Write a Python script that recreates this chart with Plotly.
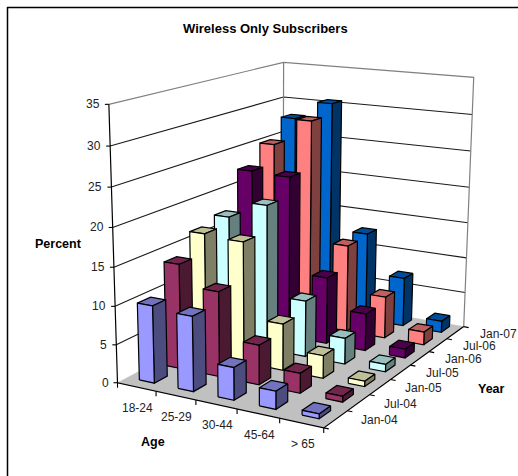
import numpy as np
import plotly.graph_objects as go

# Chart data: share of wireless-only subscribers, percent
ages = ["18-24", "25-29", "30-44", "45-64", "> 65"]
periods = ["Jan-04", "Jul-04", "Jan-05", "Jul-05", "Jan-06", "Jul-06", "Jan-07"]
s_jan04 = [10.1, 9.7, 4.2, 2.3, 0.6]
s_jul04 = [13.9, 11.2, 5.2, 2.6, 0.75]
s_jan05 = [16.5, 16.2, 6.2, 3.0, 0.7]
s_jul05 = [17.4, 19.7, 7.6, 3.5, 1.0]
s_jan06 = [22.5, 22.3, 9.2, 5.1, 1.2]
s_jul06 = [25.1, 28.9, 12.2, 5.8, 1.8]
s_jan07 = [27.8, 30.4, 12.5, 6.9, 1.6]
series = [s_jan04, s_jul04, s_jan05, s_jul05, s_jan06, s_jul06, s_jan07]
colors = ["#9999FF", "#993366", "#FFFFCC", "#CCFFFF", "#660066", "#FF8080", "#0066CC"]
z_ticks = [0, 5, 10, 15, 20, 25, 30, 35]

W, H = 518, 476
NX, NY, ZMAX = len(ages), len(periods), 35
# Bar footprint inside its category cell
BAR_X0, BAR_X1 = 0.31, 0.70
BAR_Y0, BAR_Y1 = 0.36, 0.84

# Camera of the oblique view: plot-box corners in box units and where they land on the page
box_corners = np.array([[0,0,0],[1,0,0],[1,1,0],[0,0,1],[0,1,1],[1,1,1],[0,1,0]], float)
page_corners = np.array([[119,382],[323,429],[465,325],[108,104],[285,62],[473,78],[281,297]], float)

def solve_camera(a, b):
    rows = []
    for (X, Y, Z), (u, v) in zip(a, b):
        rows.append([X, Y, Z, 1, 0, 0, 0, 0, -u*X, -u*Y, -u*Z, -u])
        rows.append([0, 0, 0, 0, X, Y, Z, 1, -v*X, -v*Y, -v*Z, -v])
    return np.linalg.svd(np.array(rows))[2][-1].reshape(3, 4)

CAM = solve_camera(box_corners, page_corners)

def view(x, y, z):
    h = CAM @ np.array([x / NX, y / NY, z / ZMAX, 1.0])
    return h[0] / h[2], h[1] / h[2]

def shade(hexc, k):
    c = [int(hexc[i:i+2], 16) for i in (1, 3, 5)]
    return "rgb(%d,%d,%d)" % tuple(int(v * k) for v in c)

fig = go.Figure()

def poly(corners, fill, line="black", width=1.2):
    pts = [view(*c) for c in corners]
    pts.append(pts[0])
    fig.add_trace(go.Scatter(x=[p[0] for p in pts], y=[p[1] for p in pts], mode="lines", fill="toself",
                             fillcolor=fill, line=dict(color=line, width=width), hoverinfo="skip"))

def seg(corners, color, width=1.2):
    pts = [view(*c) for c in corners]
    fig.add_trace(go.Scatter(x=[p[0] for p in pts], y=[p[1] for p in pts], mode="lines",
                             line=dict(color=color, width=width), hoverinfo="skip"))

def tick(x0, x1, y0, y1):
    fig.add_trace(go.Scatter(x=[x0, x1], y=[y0, y1], mode="lines", line=dict(color="black", width=1.1), hoverinfo="skip"))

# Walls, gridlines and floor
for z in z_ticks[1:-1]:
    seg([(0, 0, z), (0, NY, z), (NX, NY, z)], "#1a1a1a", 1.1)
GRAY = "#808080"
seg([(0, 0, ZMAX), (0, NY, ZMAX), (NX, NY, ZMAX), (NX, NY, 0)], GRAY, 1.2)
seg([(0, NY, 0), (0, NY, ZMAX)], GRAY, 1.2)
poly([(0, 0, 0), (NX, 0, 0), (NX, NY, 0), (0, NY, 0)], "#C0C0C0", line="#C0C0C0", width=0.5)

# Bars, painted from the far corner towards the viewer
for j in range(NY - 1, -1, -1):
    for i in range(NX):
        v = series[j][i]
        x0, x1 = i + BAR_X0, i + BAR_X1
        y0, y1 = j + BAR_Y0, j + BAR_Y1
        c = colors[j]
        poly([(x0, y0, v), (x1, y0, v), (x1, y1, v), (x0, y1, v)], shade(c, 0.75))
        poly([(x1, y0, 0), (x1, y1, 0), (x1, y1, v), (x1, y0, v)], shade(c, 0.5))
        poly([(x0, y0, 0), (x1, y0, 0), (x1, y0, v), (x0, y0, v)], c)

# Axis lines and tick marks
seg([(0, 0, ZMAX), (0, 0, 0), (NX, 0, 0), (NX, NY, 0)], "black", 1.2)
for z in z_ticks:
    px, py = view(0, 0, z)
    tick(px - 4, px, py, py)
for i in range(NX + 1):
    px, py = view(i, 0, 0)
    tick(px, px, py, py + 5)
for j in range(NY + 1):
    px, py = view(NX, j, 0)
    tick(px, px + 5, py, py + 1)

FONT = "Liberation Sans, Arial, sans-serif"
INK = "#222222"
def label(x, y, text, size=12, bold=False, anchor="center"):
    t = "<b>%s</b>" % text if bold else text
    fig.add_annotation(x=x, y=y, xref="x", yref="y", text=t, showarrow=False, xanchor=anchor, yanchor="middle",
                       font=dict(family=FONT, size=size, color="black" if bold else INK))

for z in z_ticks:
    px, py = view(0, 0, z)
    label(px - 7, py, str(z), anchor="right")
for i, a in enumerate(ages):
    px, py = view(i + 0.5, 0, 0)
    label(px + 1, py + 21, a)
for j, t in enumerate(periods):
    px, py = view(NX, j + 0.5, 0)
    label(px + 23, py + 1, t, anchor="left")

label(265.5, 28, "Wireless Only Subscribers", size=13, bold=True)
label(58, 244, "Percent", size=12.5, bold=True)
label(153, 442, "Age", size=12.5, bold=True)
label(491, 389, "Year", size=12.5, bold=True)

# Chart-area border: left and top edges only
fig.add_shape(type="line", xref="x", yref="y", x0=7.5, x1=7.5, y0=7, y1=476, line=dict(color="black", width=1.5))
fig.add_shape(type="line", xref="x", yref="y", x0=7, x1=518, y0=7.5, y1=7.5, line=dict(color="black", width=1.5))

fig.update_layout(width=W, height=H, margin=dict(l=0, r=0, t=0, b=0), autosize=False, showlegend=False,
                  paper_bgcolor="white", plot_bgcolor="white",
                  xaxis=dict(range=[0, W], visible=False, fixedrange=True),
                  yaxis=dict(range=[H, 0], visible=False, fixedrange=True))
fig.write_html("out.html", config=dict(displayModeBar=False))
